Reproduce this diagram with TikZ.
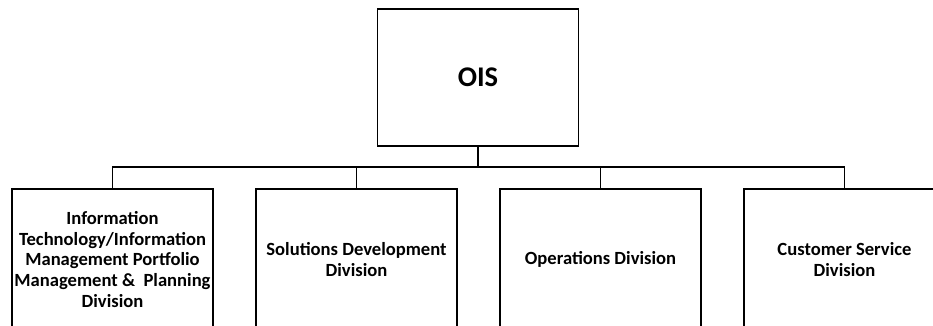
\documentclass[tikz,border=0pt]{standalone}
\usepackage{fontspec}
\setmainfont{Carlito}
\begin{document}
\begin{tikzpicture}[x=1pt,y=-1pt,
  box/.style={draw=black,line width=1.8pt,rectangle,inner sep=0pt,minimum width=201pt,align=center,fill=white},
  divbox/.style={box,minimum height=141pt,font=\bfseries\fontsize{18.6}{20.8}\selectfont},
  link/.style={draw=black,line width=1.8pt}]
\useasboundingbox (0,0) rectangle (933,325);
\clip (0,0) rectangle (933,325);
\node[box,minimum height=137pt,font=\bfseries\fontsize{28.5}{33}\selectfont] (ois) at (478,77.5) {OIS};
\coordinate (bus) at (478,167);
\node[divbox] (d1) at (112.5,259.5) {Information\\Technology/Information\\Management Portfolio\\Management \&\ \ Planning\\Division};
\node[divbox] (d2) at (356.5,259.5) {Solutions Development\\Division};
\node[divbox] (d3) at (600.5,259.5) {Operations Division};
\node[divbox] (d4) at (844.5,259.5) {Customer Service\\Division};
\draw[link] (ois.south) -- (ois.south |- bus);
\draw[link] (d1.north) -- (d1.north |- bus) -- (d4.north |- bus) -- (d4.north);
\draw[link] (d2.north) -- (d2.north |- bus);
\draw[link] (d3.north) -- (d3.north |- bus);
\end{tikzpicture}
\end{document}
